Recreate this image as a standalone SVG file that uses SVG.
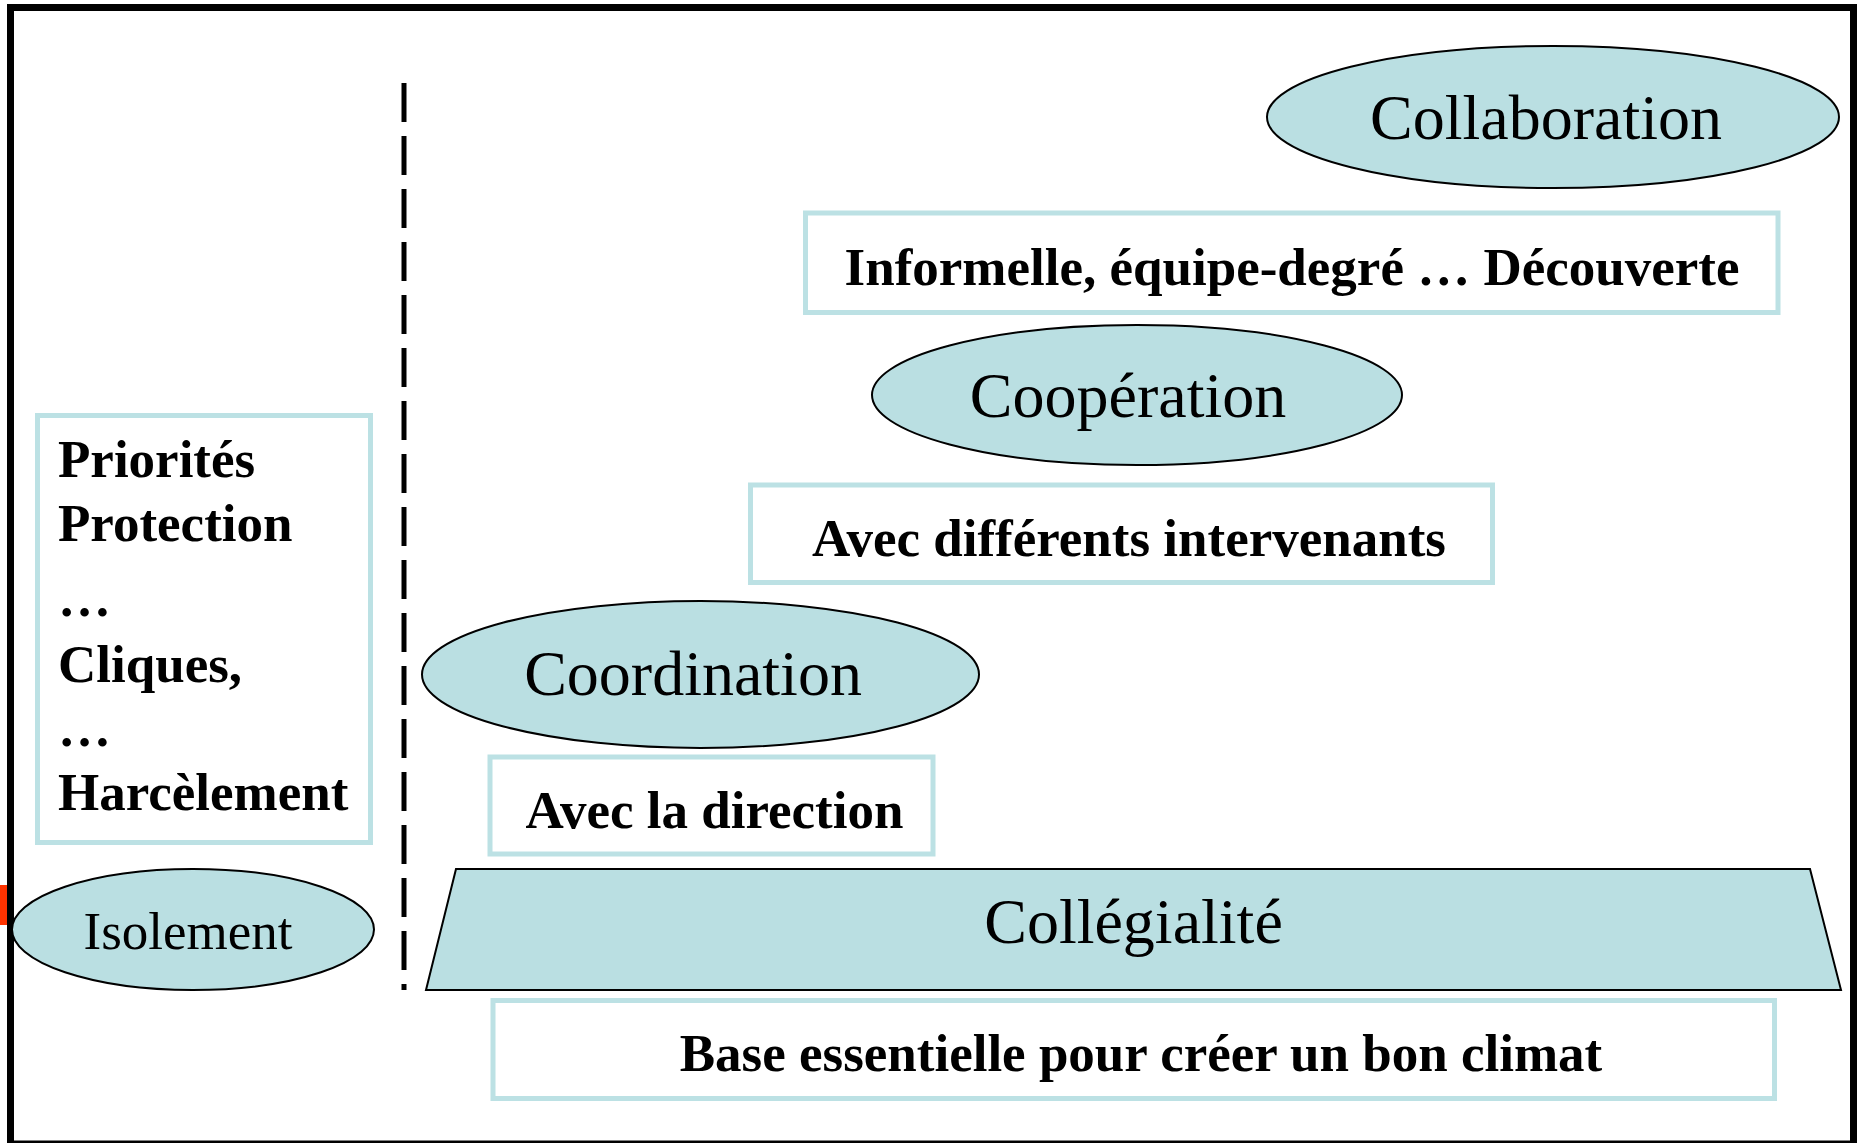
<svg xmlns="http://www.w3.org/2000/svg" width="1857" height="1143" viewBox="0 0 1857 1143">
<style>
.bg{fill:#ffffff}
.frame{fill:none;stroke:#000;stroke-width:7}
.oval{fill:#BADFE2;stroke:#000;stroke-width:2}
.box{fill:#fff;stroke:#BCE1E4;stroke-width:5}
.t{font-family:"Liberation Serif","Times New Roman",serif;fill:#000}
.big{font-size:64px}
.mid{font-size:53px}
.b{font-size:53px;font-weight:bold}
.sep{fill:none;stroke:#000;stroke-width:5;stroke-dasharray:39 14}
</style>
<rect class="bg" x="0" y="0" width="1857" height="1143"/>
<rect x="0" y="885" width="8" height="40" fill="#FF3300"/>
<rect class="frame" x="10.5" y="7.5" width="1843" height="1136.5"/>
<g id="separator">
<line class="sep" x1="404" y1="83" x2="404" y2="990"/>
</g>
<g id="collaboration">
<ellipse class="oval" cx="1553" cy="117" rx="286" ry="71"/>
<text class="t big" x="1546" y="139" text-anchor="middle">Collaboration</text>
</g>
<g id="informelle">
<rect class="box" x="805.5" y="213" width="972.5" height="99.5"/>
<text class="t b" x="1292" y="285" text-anchor="middle">Informelle, équipe-degré … Découverte</text>
</g>
<g id="cooperation">
<ellipse class="oval" cx="1137" cy="395" rx="265" ry="70"/>
<text class="t big" x="1128" y="417" text-anchor="middle">Coopération</text>
</g>
<g id="intervenants">
<rect class="box" x="750.5" y="485" width="742" height="97.5"/>
<text class="t b" x="1129" y="555.5" text-anchor="middle">Avec différents intervenants</text>
</g>
<g id="coordination">
<ellipse class="oval" cx="700.5" cy="674.5" rx="278.5" ry="73.5"/>
<text class="t big" x="693" y="695" text-anchor="middle">Coordination</text>
</g>
<g id="direction">
<rect class="box" x="490" y="757" width="443" height="97"/>
<text class="t b" x="714.5" y="828" text-anchor="middle">Avec la direction</text>
</g>
<g id="collegialite">
<polygon class="oval" points="456,869 1810,869 1841,990 426,990"/>
<text class="t big" x="1133.5" y="943" text-anchor="middle">Collégialité</text>
</g>
<g id="base">
<rect class="box" x="493" y="1000.5" width="1281.5" height="98"/>
<text class="t b" x="1141" y="1071" text-anchor="middle">Base essentielle pour créer un bon climat</text>
</g>
<g id="obstacles">
<rect class="box" x="37.5" y="415.5" width="333" height="427"/>
<text class="t b" x="58" y="477">Priorités</text>
<text class="t b" x="58" y="541">Protection</text>
<text class="t b" x="58" y="616">…</text>
<text class="t b" x="58" y="682">Cliques,</text>
<text class="t b" x="58" y="746">…</text>
<text class="t b" x="58" y="809.5">Harcèlement</text>
</g>
<g id="isolement">
<ellipse class="oval" cx="193" cy="929.5" rx="181" ry="60.5"/>
<text class="t mid" x="188" y="949" text-anchor="middle">Isolement</text>
</g>
</svg>
